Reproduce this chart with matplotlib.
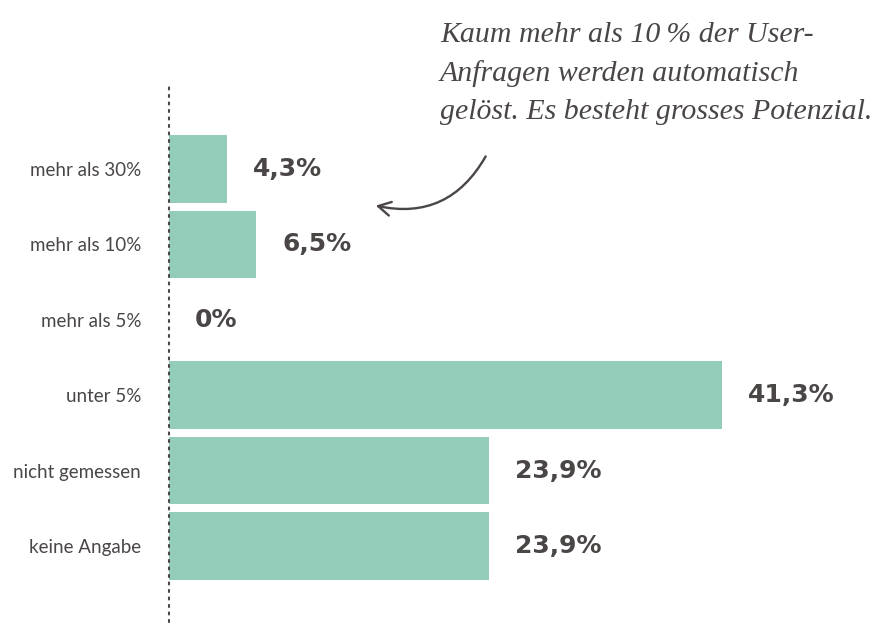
import matplotlib
matplotlib.use("Agg")
import matplotlib.pyplot as plt

# chart data
categories = ["mehr als 30%", "mehr als 10%", "mehr als 5%", "unter 5%",
              "nicht gemessen", "keine Angabe"]
values = [4.3, 6.5, 0.0, 41.3, 23.9, 23.9]
value_labels = ["4,3%", "6,5%", "0%", "41,3%", "23,9%", "23,9%"]
note = "Kaum mehr als 10\u2009% der User-\nAnfragen werden automatisch\ngelöst. Es besteht grosses Potenzial."

BAR = "#93cdb9"
INK = "#4a4646"

W, H = 885, 625
fig = plt.figure(figsize=(W / 100, H / 100), dpi=100)
ax = fig.add_axes([169 / W, 3 / H, (W - 169) / W, (622 - 87) / H])

ypos = list(range(len(categories)))
ax.barh(ypos, values, height=0.9, color=BAR, edgecolor="none")

for y, v, lab in zip(ypos, values, value_labels):
    ax.annotate(lab, (v, y), xytext=(26, 0), textcoords="offset pixels",
                ha="left", va="center", fontsize=18, fontweight="bold",
                color=INK, family=["DejaVu Sans"])

ax.set_xlim(0, 716 / 13.4)
ax.set_ylim(6.01, -1.09)
ax.set_yticks(ypos)
ax.set_yticklabels(categories, family=["Lato", "DejaVu Sans"], fontsize=13.5,
                   fontweight="normal", color=INK)
ax.tick_params(axis="y", length=0, pad=20)
ax.set_xticks([])

for side in ["top", "right", "bottom"]:
    ax.spines[side].set_visible(False)
ax.spines["left"].set_linestyle((0, (1, 2.6)))
ax.spines["left"].set_linewidth(1.5)
ax.spines["left"].set_capstyle("round")
ax.spines["left"].set_color(INK)

fig.text(440 / W, 1 - 22 / H, note, ha="left", va="top", fontsize=21.5,
         style="italic", color=INK, linespacing=1.58,
         family=["Liberation Serif", "DejaVu Serif"])

fig.patches.append(matplotlib.patches.FancyArrowPatch(
    (487 / W, 1 - 154 / H), (373 / W, 1 - 205 / H),
    transform=fig.transFigure, connectionstyle="arc3,rad=-0.38",
    arrowstyle="->,head_length=9,head_width=5", color=INK, lw=1.7))

fig.savefig("out.png", dpi=100)
